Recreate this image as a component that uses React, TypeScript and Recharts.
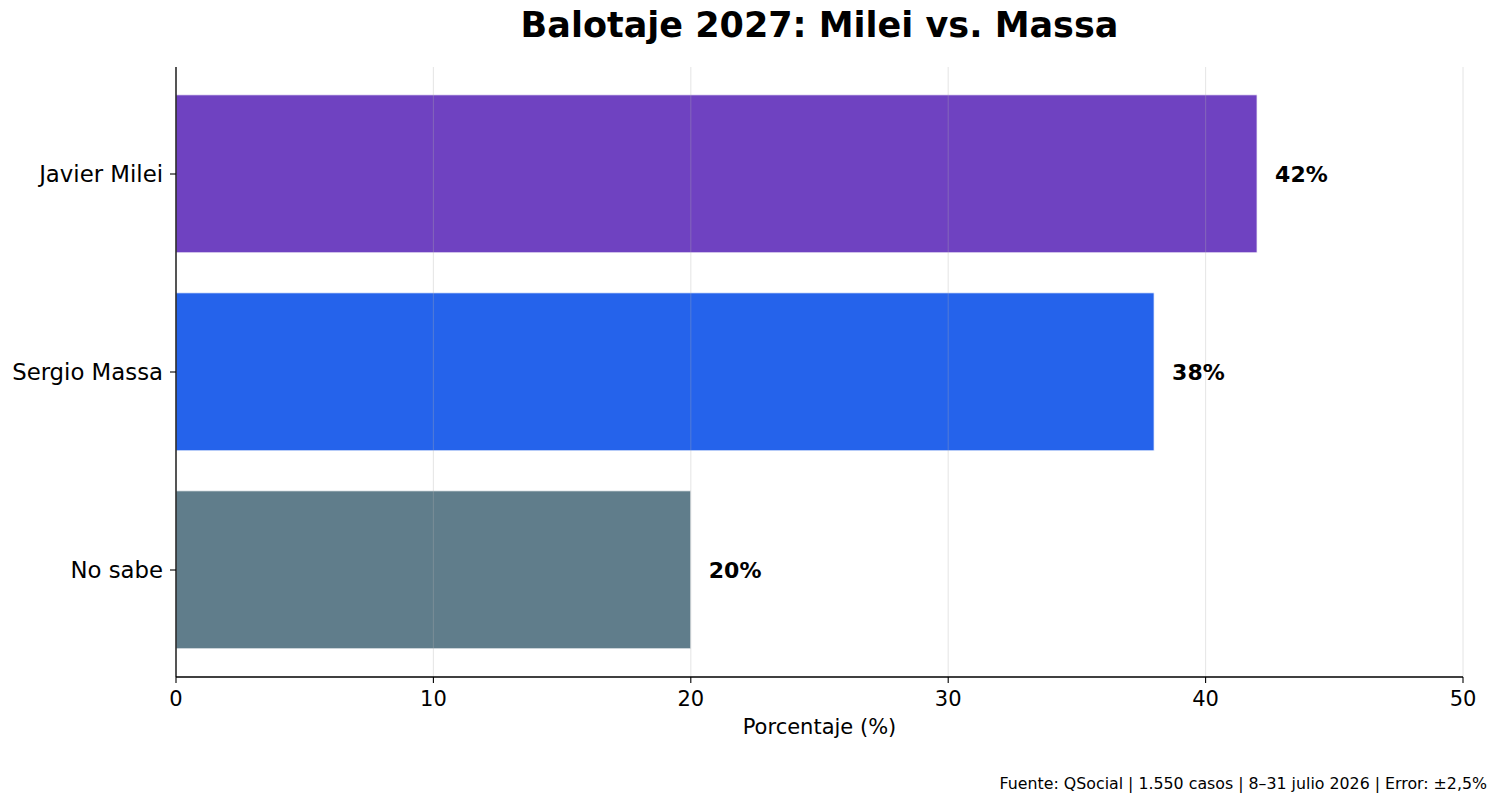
import { BarChart, Bar, XAxis, YAxis, Cell, LabelList, ReferenceLine } from 'recharts';

const candidates = ['Javier Milei', 'Sergio Massa', 'No sabe'];
const shares = [42, 38, 20];
const barColors = ['#6f42c1', '#2563eb', '#607d8b'];
const xTicks = [0, 10, 20, 30, 40, 50];

const data = candidates.map((name, i) => ({ name, value: shares[i] }));

const FONT = '"DejaVu Sans", sans-serif';

export default function App() {
  return (
    <div style={{ position: 'absolute', left: 0, top: 0, width: 1500, height: 807, background: '#fff', fontFamily: FONT }}>
      <div
        style={{
          position: 'absolute',
          left: 176,
          width: 1287,
          top: 8,
          textAlign: 'center',
          fontSize: 35,
          fontWeight: 'bold',
          lineHeight: '35px',
          color: '#000',
        }}
      >
        Balotaje 2027: Milei vs. Massa
      </div>
      <BarChart
        width={1500}
        height={807}
        data={data}
        layout="vertical"
        margin={{ top: 67, right: 37, left: 0, bottom: 60 }}
        barCategoryGap="10%"
        style={{ position: 'absolute', left: 0, top: 0 }}
      >
        <XAxis
          type="number"
          domain={[0, 50]}
          ticks={xTicks}
          height={70}
          stroke="#000"
          axisLine={{ stroke: '#000', strokeWidth: 1.3 }}
          tickLine={{ stroke: '#000', strokeWidth: 1.1 }}
          tickSize={6}
          tickMargin={8}
          tick={{ fill: '#000', fontSize: 21, fontFamily: FONT }}
          label={{ value: 'Porcentaje (%)', position: 'insideBottom', offset: 13, fill: '#000', fontSize: 21, fontFamily: FONT }}
        />
        <YAxis
          type="category"
          dataKey="name"
          width={176}
          padding={{ top: 8, bottom: 8 }}
          axisLine={{ stroke: '#000', strokeWidth: 1.3 }}
          tickLine={{ stroke: '#000', strokeWidth: 1.1 }}
          tickSize={6}
          tickMargin={7}
          tick={{ fill: '#000', fontSize: 22.8, fontFamily: FONT }}
        />
        <Bar dataKey="value" isAnimationActive={false} stroke="#ffffff" strokeWidth={0.8}>
          {data.map((d, i) => (
            <Cell key={d.name} fill={barColors[i]} />
          ))}
          <LabelList
            dataKey="value"
            position="right"
            offset={18}
            formatter={(v: number) => `${v}%`}
            fill="#000"
            fontSize={22}
            fontWeight="bold"
            fontFamily={FONT}
          />
        </Bar>
        {xTicks.map((t) => (
          <ReferenceLine key={t} x={t} stroke="#b0b0b0" strokeOpacity={0.3} strokeWidth={1.1} />
        ))}
      </BarChart>
      <div
        style={{
          position: 'absolute',
          right: 13,
          top: 776,
          fontSize: 15.8,
          lineHeight: '16px',
          color: '#000',
          whiteSpace: 'nowrap',
        }}
      >
        Fuente: QSocial | 1.550 casos | 8–31 julio 2026 | Error: ±2,5%
      </div>
    </div>
  );
}
